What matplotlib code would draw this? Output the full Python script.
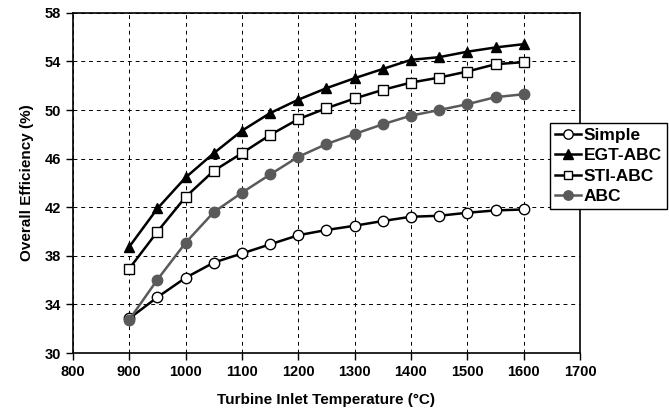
import numpy as np
import matplotlib
matplotlib.use("Agg")
import matplotlib.pyplot as plt

plt.rcParams['font.family'] = ['Liberation Sans', 'DejaVu Sans']
plt.rcParams['font.weight'] = 'bold'

# turbine inlet temperature (deg C)
tit = [900, 950, 1000, 1050, 1100, 1150, 1200, 1250, 1300, 1350, 1400, 1450, 1500, 1550, 1600]

# overall efficiency (%) for each cycle
eff_simple = [32.85, 34.6, 36.2, 37.45, 38.2, 38.95, 39.7, 40.13, 40.48, 40.87, 41.22, 41.3, 41.55, 41.74, 41.82]
eff_egt = [38.75, 41.9, 44.45, 46.45, 48.3, 49.75, 50.85, 51.8, 52.62, 53.38, 54.13, 54.35, 54.8, 55.15, 55.42]
eff_sti = [36.95, 40.0, 42.85, 45.0, 46.45, 47.95, 49.25, 50.15, 50.95, 51.66, 52.26, 52.67, 53.17, 53.77, 53.94]
eff_abc = [32.75, 36.05, 39.08, 41.6, 43.2, 44.7, 46.15, 47.2, 48.03, 48.83, 49.54, 50.0, 50.48, 51.06, 51.3]

fig = plt.figure(figsize=(6.69, 4.13), dpi=100)
ax = fig.add_axes([0.109, 0.145, 0.758, 0.824])

ax.plot(tit, eff_simple, color='black', lw=1.8, marker='o', ms=7.5,
        mfc='white', mec='black', mew=1.0, label='Simple', zorder=3)
ax.plot(tit, eff_egt, color='black', lw=1.8, marker='^', ms=7.5,
        mfc='black', mec='black', label='EGT-ABC', zorder=4)
ax.plot(tit, eff_sti, color='black', lw=1.8, marker='s', ms=6.5,
        mfc='white', mec='black', mew=1.0, label='STI-ABC', zorder=4)
ax.plot(tit, eff_abc, color='#5a5a5a', lw=1.8, marker='o', ms=7.5,
        mfc='#5a5a5a', mec='#5a5a5a', label='ABC', zorder=3)

ax.set_xlim(800, 1700)
ax.set_ylim(30, 58)
ax.set_xticks(np.arange(800, 1701, 100))
ax.set_yticks(np.arange(30, 59, 4))
ax.grid(True, color='black', ls=(0, (4, 4)), lw=0.7)
ax.set_axisbelow(True)

for s in ax.spines.values():
    s.set_linewidth(1.2)
ax.tick_params(direction='out', length=5, width=1.0, labelsize=10.5)
for lab in ax.get_xticklabels() + ax.get_yticklabels():
    lab.set_fontweight('bold')

ax.set_xlabel('Turbine Inlet Temperature (°C)', fontsize=11, fontweight='bold', labelpad=10)
ax.set_ylabel('Overall Efficiency (%)', fontsize=11, fontweight='bold', labelpad=8)

leg = fig.legend(loc='upper left', bbox_to_anchor=(0.822, 0.703), fancybox=False,
                 edgecolor='black', framealpha=1, handlelength=1.5, markerscale=0.9,
                 handletextpad=0.15, borderpad=0.3, labelspacing=0.3,
                 borderaxespad=0, prop={'weight': 'bold', 'size': 12.5})
leg.get_frame().set_linewidth(1.0)

fig.savefig('out.png', dpi=100)
